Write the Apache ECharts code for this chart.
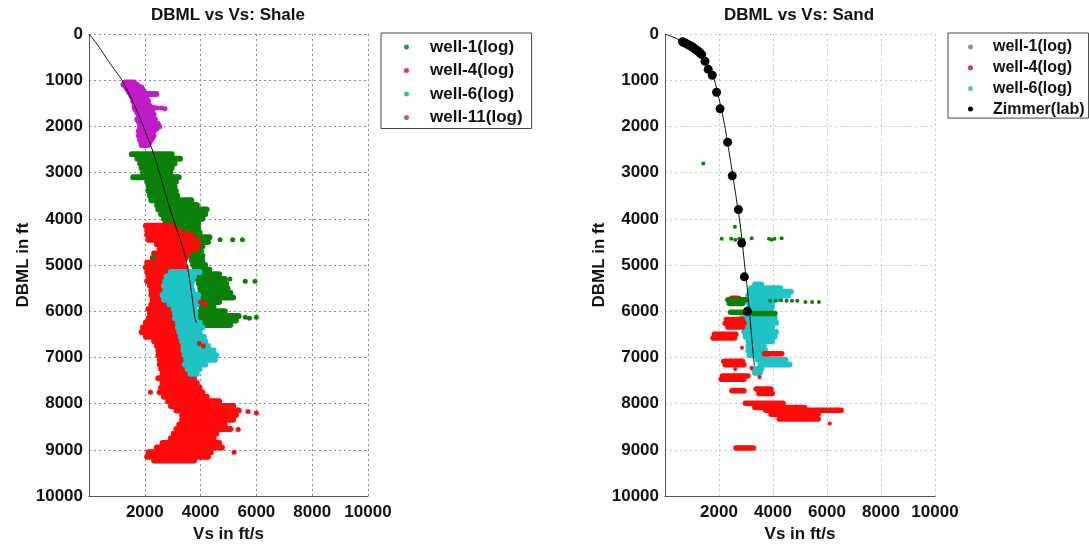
<!DOCTYPE html>
<html>
<head>
<meta charset="utf-8">
<script src="https://cdn.jsdelivr.net/npm/echarts@6/dist/echarts.min.js"></script>
<style>
  html, body { margin: 0; padding: 0; background: #fff; }
  #chart { width: 1089px; height: 548px; }
</style>
</head>
<body>
<div id="chart"></div>
<script>
// rows are [depth, vsMin, vsMax] for the dense log clouds, points are [vs, depth]
const depthTicks = [0, 1000, 2000, 3000, 4000, 5000, 6000, 7000, 8000, 9000, 10000]
const vsTicks = [2000, 4000, 6000, 8000, 10000]

// ---- Shale ----
const shaleWell1Rows = [
  [2600, 1500, 3000], [2700, 1700, 3300], [2800, 1800, 3100], [2900, 1850, 3000],
  [3000, 1900, 2950], [3100, 1550, 3250], [3200, 2050, 3150], [3300, 2100, 3100],
  [3400, 2100, 3150], [3500, 2150, 3200], [3600, 2200, 3700], [3700, 2400, 3900],
  [3800, 2450, 4250], [3900, 2550, 4200], [4000, 2650, 4100], [4100, 2700, 3950],
  [4200, 3000, 3950], [4300, 3100, 4000], [4400, 3200, 4350], [4500, 3300, 4300],
  [4600, 3500, 4100], [4700, 3600, 4050], [4800, 3600, 4100], [4900, 3650, 4100],
  [5000, 3700, 4200], [5100, 3750, 4350], [5200, 3850, 4700], [5300, 3850, 4900],
  [5400, 3900, 4950], [5500, 3950, 5000], [5600, 3950, 5100], [5700, 4000, 5200],
  [5800, 4050, 4700], [5900, 4000, 4500], [6000, 3950, 4900], [6100, 3950, 5400],
  [6200, 3950, 5300], [6300, 4000, 5100]
]
const shaleWell1Pts = [
  [4700, 4450], [5150, 4450], [5500, 4450], [5050, 5300], [5600, 5350], [5950, 5350],
  [5600, 6130], [6000, 6130], [5750, 6150], [2300, 4850]
]
const shaleWell4Rows = [
  [4150, 2000, 3000], [4250, 2050, 3250], [4350, 2050, 3700], [4450, 2100, 3900],
  [4550, 2400, 3950], [4650, 2500, 3900], [4750, 2300, 3600], [4850, 2250, 3500],
  [4950, 2050, 3400], [5050, 2000, 3500], [5150, 2050, 2900], [5250, 2100, 2850],
  [5350, 2050, 2800], [5450, 2150, 2750], [5550, 2200, 2800], [5650, 2200, 2750],
  [5750, 2250, 2750], [5850, 2200, 2800], [5950, 2100, 3000], [6050, 2150, 3100],
  [6150, 2100, 3200], [6250, 2000, 3250], [6350, 1900, 3300], [6450, 1850, 3200],
  [6550, 2000, 3300], [6650, 2300, 3400], [6750, 2400, 3500], [6850, 2450, 3500],
  [6950, 2450, 3500], [7050, 2500, 3450], [7150, 2500, 3550], [7250, 2550, 3700],
  [7350, 2600, 3800], [7450, 2450, 3800], [7550, 2600, 3900], [7650, 2550, 4000],
  [7750, 2500, 4100], [7850, 2650, 4250], [7950, 2800, 4700], [8050, 2900, 5200],
  [8150, 3100, 5400], [8250, 3300, 5300], [8350, 3300, 5200], [8450, 3200, 4900],
  [8550, 3100, 5100], [8650, 3000, 4600], [8750, 2900, 4500], [8850, 2600, 4700],
  [8950, 2400, 4800], [9050, 2100, 4400], [9150, 2050, 4300], [9230, 2300, 3800]
]
const shaleWell4Pts = [
  [4000, 5800], [4150, 5850], [3950, 6700], [4100, 6750], [2200, 7750],
  [5700, 8170], [6000, 8200], [5350, 8560], [5200, 9050], [4900, 8120]
]
const shaleWell6Rows = [
  [5150, 2900, 4000], [5250, 2750, 3800], [5350, 2700, 3750], [5450, 2650, 3700],
  [5550, 2700, 3750], [5650, 2600, 3950], [5750, 2650, 3950], [5850, 2850, 3900],
  [5950, 3000, 3800], [6050, 3050, 3850], [6150, 3050, 3850], [6250, 3150, 4000],
  [6350, 3150, 4100], [6450, 3200, 4000], [6550, 3250, 4150], [6650, 3300, 4200],
  [6750, 3350, 4300], [6850, 3350, 4500], [6950, 3400, 4600], [7050, 3450, 4550],
  [7150, 3400, 4200], [7250, 3500, 4000], [7350, 3600, 3900]
]
const shaleWell11Rows = [
  [1050, 1250, 1650], [1100, 1200, 1750], [1150, 1300, 1900], [1200, 1350, 1950],
  [1250, 1400, 2000], [1300, 1450, 2450], [1350, 1500, 2100], [1400, 1550, 2050],
  [1450, 1550, 2150], [1500, 1600, 2100], [1550, 1600, 2200], [1600, 1600, 2350],
  [1650, 1650, 2250], [1700, 1700, 2300], [1750, 1750, 2350], [1800, 1750, 2300],
  [1850, 1700, 2400], [1900, 1750, 2350], [1950, 1800, 2500], [2000, 1800, 2550],
  [2050, 1800, 2450], [2100, 1750, 2350], [2150, 1800, 2300], [2200, 1750, 2350],
  [2250, 1800, 2300], [2300, 1800, 2250], [2350, 1850, 2200], [2400, 1850, 2150]
]
const shaleWell11Pts = [[2450, 1600], [2600, 1600], [2720, 1620]]
const shaleTrend = [
  [0, 0], [300, 230], [600, 500], [900, 760], [1170, 990], [1500, 1380],
  [1800, 1780], [2050, 2160], [2300, 2560], [2550, 3060], [2830, 3640],
  [3100, 4150], [3350, 4600], [3500, 4950], [3650, 5500], [3800, 6150], [3850, 6250]
]

// ---- Sand ----
const sandWell1Rows = [
  [5750, 2300, 3030], [5830, 2350, 2900], [6020, 2400, 3000], [6050, 3250, 4100]
]
const sandWell1Pts = [
  [1420, 2800], [2590, 4170], [2100, 4430], [2450, 4430], [2600, 4450], [2750, 4430],
  [2900, 4450], [3210, 4420], [3850, 4430], [3950, 4450], [4050, 4430], [4320, 4420],
  [3900, 5770], [4100, 5770], [4300, 5760], [4500, 5770], [4700, 5770], [4900, 5770],
  [5200, 5800], [5450, 5800], [5700, 5800]
]
const sandWell4Rows = [
  [5720, 2450, 2750], [6180, 2250, 2900], [6260, 2200, 2950], [6340, 2300, 2900],
  [6500, 1800, 2650], [6580, 1750, 2600], [6920, 3650, 4350], [7080, 2150, 2900],
  [7160, 2200, 2950], [7400, 2100, 3100], [7470, 2050, 2950], [7720, 2450, 2950],
  [7680, 3350, 3950], [7780, 3450, 4000], [7990, 2950, 4400], [8080, 3300, 5200],
  [8140, 3700, 6550], [8230, 3900, 5700], [8330, 4200, 5700], [8960, 2600, 3300]
]
const sandWell4Pts = [[2850, 6790], [3200, 7230], [6100, 8430], [2600, 7250], [3500, 7420]]
const sandWell6Rows = [
  [5420, 3300, 3600], [5500, 3150, 4300], [5580, 3100, 4700], [5660, 3050, 4600],
  [5740, 3050, 4200], [5820, 3050, 4000], [5900, 3100, 4000], [5980, 3100, 3950],
  [6070, 2900, 4000], [6150, 2800, 4100], [6250, 2850, 4150], [6350, 2900, 4000],
  [6450, 2900, 4150], [6550, 2950, 4100], [6650, 3050, 4000], [6750, 3050, 3700],
  [6850, 3050, 3750], [6950, 3100, 3800], [7050, 3400, 4500], [7150, 3500, 4650],
  [7250, 3250, 3600], [7330, 3300, 3550]
]
const zimmerPts = [
  [650, 170], [700, 185], [780, 205], [860, 235], [920, 250], [990, 270], [1050, 300],
  [1110, 325], [1180, 350], [1240, 375], [1300, 410], [1360, 445], [1480, 590],
  [1600, 765], [1750, 895], [1910, 1260], [2040, 1620], [2320, 2340], [2490, 3070],
  [2720, 3800], [2840, 4525], [2940, 5255], [3050, 6000]
]
const sandTrend = [
  [0, 0], [400, 90], [700, 185], [1000, 290], [1300, 420], [1550, 620], [1800, 950],
  [2000, 1400], [2200, 1950], [2400, 2650], [2600, 3400], [2800, 4200], [2950, 5000],
  [3100, 5800], [3200, 6500], [3310, 7180]
]

const GREEN = '#0a800a'
const RED = '#ff0a0a'
const CYAN = '#1fc3c6'
const MAGENTA = '#c21bc8'
const FONT = 'Liberation Sans, Arial, sans-serif'

const chart = echarts.init(document.getElementById('chart'))

// draws one horizontal band of the log cloud between vsMin and vsMax
const makeStrip = (h) => (params, api) => {
  const a = api.coord([api.value(1), api.value(0)])
  const b = api.coord([api.value(2), api.value(0)])
  return {
    type: 'rect',
    shape: { x: a[0] - 2, y: a[1] - h / 2, width: b[0] - a[0] + 4, height: h, r: h / 2 },
    style: { fill: api.visual('color') }
  }
}

const stripSeries = (name, rows, color, idx, h) => ({
  name,
  type: 'custom',
  xAxisIndex: idx,
  yAxisIndex: idx,
  renderItem: makeStrip(h),
  encode: { x: [1, 2], y: 0 },
  itemStyle: { color },
  data: rows,
  silent: true
})

const dotSeries = (name, pts, color, idx, size) => ({
  name,
  type: 'scatter',
  xAxisIndex: idx,
  yAxisIndex: idx,
  symbol: 'circle',
  symbolSize: size || 5,
  itemStyle: { color, opacity: 1 },
  data: pts,
  silent: true
})

const trendSeries = (pts, idx) => ({
  type: 'line',
  xAxisIndex: idx,
  yAxisIndex: idx,
  data: pts,
  smooth: 0.4,
  showSymbol: false,
  lineStyle: { color: '#111', width: 1 },
  silent: true,
  z: 5
})

const tickFont = { fontFamily: FONT, fontWeight: 'bold', fontSize: 17, color: '#111' }

const makeX = (idx, lineColor) => ({
  gridIndex: idx,
  type: 'value',
  min: 0,
  max: 10000,
  interval: 2000,
  name: 'Vs in ft/s',
  nameLocation: 'middle',
  nameGap: 23,
  nameTextStyle: tickFont,
  axisLine: { onZero: false, lineStyle: { color: '#555' } },
  axisTick: { show: false },
  axisLabel: {
    ...tickFont,
    showMinLabel: false,
    margin: 8,
    formatter: (v) => (vsTicks.includes(v) ? String(v) : '')
  },
  splitLine: { show: true, lineStyle: { color: lineColor, type: [2, 3] } }
})

const makeY = (idx, gap, lineColor) => ({
  gridIndex: idx,
  type: 'value',
  inverse: true,
  min: 0,
  max: 10000,
  interval: 1000,
  name: 'DBML in ft',
  nameLocation: 'middle',
  nameGap: gap,
  nameRotate: 90,
  nameTextStyle: tickFont,
  axisLine: { onZero: false, lineStyle: { color: '#555' } },
  axisTick: { show: false },
  axisLabel: {
    ...tickFont,
    margin: 6,
    formatter: (v) => (depthTicks.includes(v) ? String(v) : '')
  },
  splitLine: { show: true, lineStyle: { color: lineColor, type: [2, 3] } }
})

const legendText = (size, lh, pad) => ({
  fontFamily: FONT,
  fontWeight: 'bold',
  fontSize: size,
  lineHeight: lh,
  color: '#111',
  padding: [0, 0, 0, pad]
})

const option = {
  animation: false,
  backgroundColor: '#fff',
  title: [
    {
      text: 'DBML vs Vs: Shale',
      left: 228,
      top: 7,
      padding: 0,
      textAlign: 'center',
      textStyle: tickFont
    },
    {
      text: 'DBML vs Vs: Sand',
      left: 799,
      top: 7,
      padding: 0,
      textAlign: 'center',
      textStyle: tickFont
    }
  ],
  legend: [
    {
      left: 381,
      top: 33,
      orient: 'vertical',
      selectedMode: false,
      borderColor: '#444',
      borderWidth: 1,
      padding: [4, 9, 1, 23],
      itemGap: 3.5,
      itemWidth: 5,
      itemHeight: 5,
      textStyle: legendText(17, 20, 16),
      data: [
        { name: 'well-1(log)', icon: 'circle', itemStyle: { color: '#3a8a6a' } },
        { name: 'well-4(log)', icon: 'circle', itemStyle: { color: '#e0306a' } },
        { name: 'well-6(log)', icon: 'circle', itemStyle: { color: '#30c0a0' } },
        { name: 'well-11(log)', icon: 'circle', itemStyle: { color: '#b05a90' } }
      ]
    },
    {
      left: 948,
      top: 33,
      orient: 'vertical',
      selectedMode: false,
      borderColor: '#444',
      borderWidth: 1,
      padding: [5, 4, 0, 20],
      itemGap: 2.7,
      itemWidth: 5,
      itemHeight: 5,
      textStyle: legendText(16, 18, 15),
      data: [
        { name: 'well-1 (log)', icon: 'circle', itemStyle: { color: '#909090' } },
        { name: 'well-4 (log)', icon: 'circle', itemStyle: { color: '#e0306a' } },
        { name: 'well-6 (log)', icon: 'circle', itemStyle: { color: '#60c8b0' } },
        { name: 'Zimmer(lab)', icon: 'circle', itemStyle: { color: '#000' } }
      ],
      formatter: (n) => n.replace(' (', '(')
    }
  ],
  grid: [
    { left: 89, top: 34, width: 279, height: 470 },
    { left: 665, top: 34, width: 270, height: 470 }
  ],
  xAxis: [makeX(0, '#888'), makeX(1, '#c4c4c4')],
  yAxis: [makeY(0, 57, '#888'), makeY(1, 54, '#c4c4c4')],
  series: [
    // shale panel
    stripSeries('well-1(log)', shaleWell1Rows, GREEN, 0, 6),
    dotSeries('well-1(log)', shaleWell1Pts, GREEN, 0),
    stripSeries('well-4(log)', shaleWell4Rows, RED, 0, 6),
    dotSeries('well-4(log)', shaleWell4Pts, RED, 0),
    stripSeries('well-6(log)', shaleWell6Rows, CYAN, 0, 6),
    stripSeries('well-11(log)', shaleWell11Rows, MAGENTA, 0, 6),
    dotSeries('well-11(log)', shaleWell11Pts, MAGENTA, 0),
    trendSeries(shaleTrend, 0),
    // sand panel
    stripSeries('well-6 (log)', sandWell6Rows, CYAN, 1, 6),
    stripSeries('well-4 (log)', sandWell4Rows, RED, 1, 5.5),
    dotSeries('well-4 (log)', sandWell4Pts, RED, 1, 4),
    stripSeries('well-1 (log)', sandWell1Rows, GREEN, 1, 5.5),
    dotSeries('well-1 (log)', sandWell1Pts, GREEN, 1, 4),
    trendSeries(sandTrend, 1),
    dotSeries('Zimmer(lab)', zimmerPts, '#000', 1, 9)
  ]
}

chart.setOption(option)
</script>
</body>
</html>
